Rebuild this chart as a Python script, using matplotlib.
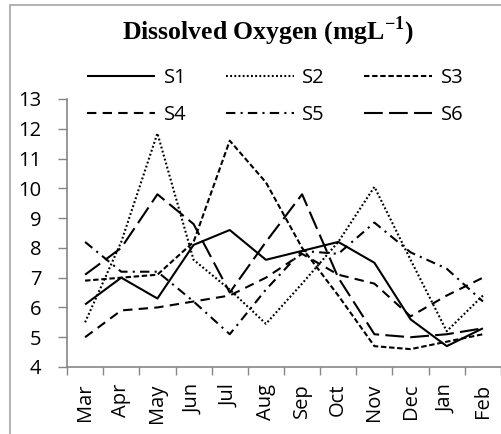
import matplotlib
matplotlib.use("Agg")
import matplotlib.pyplot as plt
from matplotlib.patches import Rectangle

months = ["Mar", "Apr", "May", "Jun", "Jul", "Aug", "Sep", "Oct", "Nov", "Dec", "Jan", "Feb"]
s1 = [6.1, 7.0, 6.3, 8.1, 8.6, 7.6, 7.9, 8.2, 7.5, 5.6, 4.7, 5.3]
s2 = [5.5, 8.2, 11.85, 7.6, 6.6, 5.45, 6.8, 8.2, 10.05, 7.6, 5.2, 6.4]
s3 = [6.9, 7.0, 7.1, 8.2, 11.6, 10.2, 8.0, 6.4, 4.7, 4.6, 4.85, 5.1]
s4 = [5.0, 5.9, 6.0, 6.2, 6.4, 7.0, 7.8, 7.1, 6.8, 5.7, 6.4, 7.0]
s5 = [8.2, 7.2, 7.2, 6.2, 5.1, 6.6, 7.9, 7.8, 8.85, 7.85, 7.3, 6.2]
s6 = [7.1, 8.0, 9.8, 8.8, 6.5, 8.2, 9.8, 7.0, 5.1, 5.0, 5.1, 5.3]
series = [("S1", s1), ("S2", s2), ("S3", s3), ("S4", s4), ("S5", s5), ("S6", s6)]
yticks = list(range(4, 14))

styles = {
    "S1": dict(linestyle="-"),
    "S2": dict(linestyle=(0, (0.9, 1.1))),
    "S3": dict(linestyle=(0, (2.6, 1.3))),
    "S4": dict(linestyle=(0, (4.5, 3.0))),
    "S5": dict(linestyle=(0, (4.5, 2.5, 1.0, 2.5))),
    "S6": dict(linestyle=(0, (9.0, 3.0))),
}

plt.rcParams["font.family"] = ["Open Sans", "DejaVu Sans"]
fig = plt.figure(figsize=(5.01, 4.34), dpi=100)
ax = fig.add_axes([67 / 501, (434 - 367) / 434, 434 / 501, (367 - 99) / 434])

x = list(range(len(months)))
handles = {}
for name, vals in series:
    ln, = ax.plot(x, vals, color="black", linewidth=1.5, solid_capstyle="butt",
                  dash_capstyle="butt", label=name, **styles[name])
    handles[name] = ln

ax.set_xlim(-0.5, len(months) - 0.5)
ax.set_ylim(4, 13)
ax.set_yticks(yticks)
ax.set_yticklabels([str(v) for v in yticks], fontsize=14.5)
ax.set_xticks([i + 0.5 for i in range(-1, len(months))], minor=False)
ax.set_xticklabels([])
ax.set_xticks(x, minor=True)
ax.set_xticklabels(months, minor=True, rotation=90, fontsize=14.5)
ax.tick_params(axis="x", which="major", length=6, width=1, color="#868686", direction="out")
ax.tick_params(axis="x", which="minor", length=0, pad=12)
ax.tick_params(axis="y", length=6.5, width=1, color="#868686", direction="out", pad=12)
for sp in ["top", "right"]:
    ax.spines[sp].set_visible(False)
for sp in ["left", "bottom"]:
    ax.spines[sp].set_color("#868686")
    ax.spines[sp].set_linewidth(1.2)

fig.text(268 / 501, 1 - 31 / 434, r"Dissolved Oxygen (mgL$^{\mathregular{-1}}$)", ha="center", va="center",
         fontsize=18.5, fontweight="bold", family="Liberation Serif")

order = ["S1", "S4", "S2", "S5", "S3", "S6"]
leg = fig.legend(handles=[handles[n] for n in order], loc="upper left",
                 bbox_to_anchor=(87 / 501, 1 - 68 / 434),
                 ncol=3, frameon=False, fontsize=14.5, handlelength=3.4, handletextpad=0.4,
                 columnspacing=1.95, labelspacing=0.85, borderpad=0, borderaxespad=0)

fig.patches.append(Rectangle((10 / 501, -0.1), 1.2, 1 - 5 / 434 + 0.1, transform=fig.transFigure,
                             fill=False, edgecolor="#a6a6a6", linewidth=1.2))

fig.savefig("out.png", dpi=100)
